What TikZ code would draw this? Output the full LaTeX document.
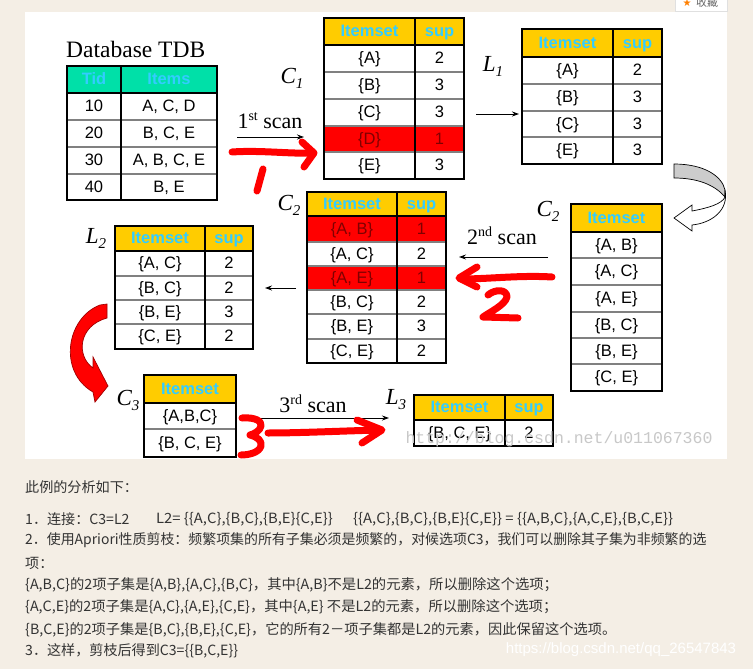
\documentclass[tikz,border=0pt]{standalone}
\usepackage{fontspec}
\setmainfont{Liberation Serif}
\setsansfont{Liberation Sans}
\setmonofont{Liberation Mono}
\newfontfamily\cjk{Noto Sans CJK SC}
\newfontfamily\djv{DejaVu Sans}
\usetikzlibrary{arrows.meta}
\definecolor{pagebg}{HTML}{F4EEE5}
\definecolor{hdrgold}{HTML}{FFCC00}
\definecolor{hdrteal}{HTML}{00E0A8}
\definecolor{hdrtext}{HTML}{33CCFF}
\definecolor{rowred}{HTML}{FF0000}
\definecolor{redtext}{HTML}{800000}
\definecolor{sepgray}{HTML}{808080}
\definecolor{txtgray}{HTML}{333333}
\definecolor{wmgray}{HTML}{C8C8C8}
\definecolor{ribbongray}{HTML}{CCCCCC}
\definecolor{darkred}{HTML}{A00000}
\tikzset{
  cel/.style={font=\sffamily\fontsize{16.5}{16.5}\selectfont, text=black, inner sep=0pt, text height=12pt, text depth=1.5pt},
  celfill/.style={fill=white},
  redcel/.style={cel, text=redtext},
  redcelfill/.style={fill=rowred},
  hdr/.style={font=\sffamily\bfseries\fontsize{16.5}{16.5}\selectfont, text=hdrtext, inner sep=0pt, text height=12pt, text depth=1.5pt},
  hdrfill/.style={fill=hdrgold},
  tdbhdr/.style={hdr},
  tdbhdrfill/.style={fill=hdrteal},
  tframe/.style={draw=black, line width=2pt},
  rowsep/.style={draw=sepgray, line width=2pt},
  lbl/.style={font=\rmfamily\itshape\fontsize{23}{23}\selectfont, inner sep=0pt},
  scanlbl/.style={font=\rmfamily\fontsize{22}{22}\selectfont, inner sep=0pt},
  thinarrow/.style={draw=black, line width=0.9pt, -{Stealth[length=7pt,width=5pt]}},
  handred/.style={draw=rowred, line width=7pt, line cap=round, line join=round},
  cjknote/.style={font=\cjk\fontsize{14.1}{14.1}\selectfont, text=txtgray, anchor=west, inner sep=0pt},
}
\newcommand\sublab[2]{#1\raisebox{-5pt}{\fontsize{15}{15}\selectfont #2}}
\newcommand\supscan[2]{#1\raisebox{8pt}{\fontsize{14}{14}\selectfont #2} scan}
\newcommand\crow[9]{%
  \fill[#9fill] (#2,#5) rectangle (#4,#6);
  \node[#9] (#1a) at ({(#2+#3)/2},{(#5+#6)/2}) {#7};
  \node[#9] (#1b) at ({(#3+#4)/2},{(#5+#6)/2}) {#8};}
\newcommand\scell[7]{%
  \fill[#7fill] (#2,#4) rectangle (#3,#5);
  \node[#7] (#1) at ({(#2+#3)/2},{(#4+#5)/2}) {#6};}
\begin{document}
\begin{tikzpicture}[x=1pt,y=-1pt]
\useasboundingbox (0,0) rectangle (753,669);
\fill[pagebg] (0,0) rectangle (753,669);
\fill[white] (25,12) rectangle (727,459);
% favourite button
\fill[white] (675,0) rectangle (727,11);
\draw[black!12] (675,0) -- (675,11) -- (727,11) -- (727,0);
\begin{scope}
\clip (675,0) rectangle (727,11);
\node[font=\djv\fontsize{10}{10}\selectfont, text=orange, inner sep=0pt] (favstar) at (687,3) {★};
\node[font=\cjk\fontsize{11}{11}\selectfont, text=black!60, inner sep=0pt] (favtxt) at (707,2) {收藏};
\end{scope}

% ---------- Database TDB ----------
\node[font=\rmfamily\fontsize{23.5}{23.5}\selectfont, anchor=base west, inner sep=0pt] (tdbtitle) at (66,58) {Database TDB};
\crow{tdbh}{67}{121}{217}{66}{93}{Tid}{Items}{tdbhdr}
\crow{tdbra}{67}{121}{217}{93}{120}{10}{A, C, D}{cel}
\crow{tdbrb}{67}{121}{217}{120}{147}{20}{B, C, E}{cel}
\crow{tdbrc}{67}{121}{217}{147}{174}{30}{A, B, C, E}{cel}
\crow{tdbrd}{67}{121}{217}{174}{200}{40}{B, E}{cel}
\foreach \y in {120,147,174} \draw[rowsep] (67,\y) -- (217,\y);
\draw[tframe] (67,93) -- (217,93);
\draw[tframe] (67,66) rectangle (217,200);
\draw[tframe] (121,66) -- (121,200);

% ---------- C1 ----------
\crow{caH}{324}{415}{464}{18}{45}{Itemset}{sup}{hdr}
\crow{caa}{324}{415}{464}{45}{72}{\{A\}}{2}{cel}
\crow{cab}{324}{415}{464}{72}{99}{\{B\}}{3}{cel}
\crow{cac}{324}{415}{464}{99}{126}{\{C\}}{3}{cel}
\crow{cad}{324}{415}{464}{126}{152}{\{D\}}{1}{redcel}
\crow{cae}{324}{415}{464}{152}{179}{\{E\}}{3}{cel}
\foreach \y in {72,99,126,152} \draw[rowsep] (324,\y) -- (464,\y);
\draw[tframe] (324,45) -- (464,45);
\draw[tframe] (324,18) rectangle (464,179);
\draw[tframe] (415,18) -- (415,179);
\node[lbl] (c1lbl) at (292,78) {\sublab{C}{1}};

% ---------- L1 ----------
\crow{laH}{522}{613}{662}{29}{57}{Itemset}{sup}{hdr}
\crow{laa}{522}{613}{662}{57}{84}{\{A\}}{2}{cel}
\crow{lab}{522}{613}{662}{84}{111}{\{B\}}{3}{cel}
\crow{lac}{522}{613}{662}{111}{137}{\{C\}}{3}{cel}
\crow{lae}{522}{613}{662}{137}{164}{\{E\}}{3}{cel}
\foreach \y in {84,111,137} \draw[rowsep] (522,\y) -- (662,\y);
\draw[tframe] (522,57) -- (662,57);
\draw[tframe] (522,29) rectangle (662,164);
\draw[tframe] (613,29) -- (613,164);
\node[lbl] (l1lbl) at (493,66) {\sublab{L}{1}};

% ---------- C2 (right, itemsets only) ----------
\scell{cbrH}{571}{662}{204}{232}{Itemset}{hdr}
\scell{cbra}{571}{662}{232}{258}{\{A, B\}}{cel}
\scell{cbrb}{571}{662}{258}{285}{\{A, C\}}{cel}
\scell{cbrc}{571}{662}{285}{312}{\{A, E\}}{cel}
\scell{cbrd}{571}{662}{312}{338}{\{B, C\}}{cel}
\scell{cbre}{571}{662}{338}{364}{\{B, E\}}{cel}
\scell{cbrf}{571}{662}{364}{391}{\{C, E\}}{cel}
\foreach \y in {258,285,312,338,364} \draw[rowsep] (571,\y) -- (662,\y);
\draw[tframe] (571,232) -- (662,232);
\draw[tframe] (571,204) rectangle (662,391);
\node[lbl] (c2rlbl) at (548,211) {\sublab{C}{2}};

% ---------- C2 (middle, counted) ----------
\crow{cbH}{307}{397}{446}{192}{216}{Itemset}{sup}{hdr}
\crow{cba}{307}{397}{446}{216}{242}{\{A, B\}}{1}{redcel}
\crow{cbb}{307}{397}{446}{242}{266}{\{A, C\}}{2}{cel}
\crow{cbc}{307}{397}{446}{266}{290}{\{A, E\}}{1}{redcel}
\crow{cbd}{307}{397}{446}{290}{314}{\{B, C\}}{2}{cel}
\crow{cbe}{307}{397}{446}{314}{339}{\{B, E\}}{3}{cel}
\crow{cbf}{307}{397}{446}{339}{363}{\{C, E\}}{2}{cel}
\foreach \y in {242,266,290,314,339} \draw[rowsep] (307,\y) -- (446,\y);
\draw[tframe] (307,216) -- (446,216);
\draw[tframe] (307,192) rectangle (446,363);
\draw[tframe] (397,192) -- (397,363);
\node[lbl] (c2lbl) at (289,205) {\sublab{C}{2}};

% ---------- L2 ----------
\crow{lbH}{115}{205}{253}{226}{251}{Itemset}{sup}{hdr}
\crow{lba}{115}{205}{253}{251}{276}{\{A, C\}}{2}{cel}
\crow{lbb}{115}{205}{253}{276}{300}{\{B, C\}}{2}{cel}
\crow{lbc}{115}{205}{253}{300}{324}{\{B, E\}}{3}{cel}
\crow{lbd}{115}{205}{253}{324}{349}{\{C, E\}}{2}{cel}
\foreach \y in {276,300,324} \draw[rowsep] (115,\y) -- (253,\y);
\draw[tframe] (115,251) -- (253,251);
\draw[tframe] (115,226) rectangle (253,349);
\draw[tframe] (205,226) -- (205,349);
\node[lbl] (l2lbl) at (96,238) {\sublab{L}{2}};

% ---------- C3 ----------
\scell{ccH}{144}{236}{375}{403}{Itemset}{hdr}
\scell{cca}{144}{236}{403}{429}{\{A,B,C\}}{cel}
\scell{ccb}{144}{236}{429}{457}{\{B, C, E\}}{cel}
\draw[rowsep] (144,429) -- (236,429);
\draw[tframe] (144,403) -- (236,403);
\draw[tframe] (144,375) rectangle (236,457);
\node[lbl] (c3lbl) at (128,400) {\sublab{C}{3}};

% ---------- L3 ----------
\crow{lcH}{414}{505}{553}{395}{420}{Itemset}{sup}{hdr}
\crow{lca}{414}{505}{553}{420}{446}{\{B, C, E\}}{2}{cel}
\draw[tframe] (414,420) -- (553,420);
\draw[tframe] (414,395) rectangle (553,446);
\draw[tframe] (505,395) -- (505,446);
\node[lbl] (l3lbl) at (396,400) {\sublab{L}{3}};

% ---------- scan labels and thin arrows ----------
\node[scanlbl] (scana) at (270,121) {\supscan{1}{st}};
\coordinate (sa1) at (237,137); \coordinate (sa2) at (304,137);
\draw[thinarrow] (sa1) -- (sa2);
\coordinate (la1) at (476,114); \coordinate (la2) at (519,114);
\draw[thinarrow] (la1) -- (la2);
\node[scanlbl] (scanb) at (502,236) {\supscan{2}{nd}};
\coordinate (sb1) at (548,257); \coordinate (sb2) at (459,257);
\draw[thinarrow] (sb1) -- (sb2);
\coordinate (lb1) at (296,288); \coordinate (lb2) at (265,288);
\draw[thinarrow] (lb1) -- (lb2);
\node[scanlbl] (scanc) at (313,404) {\supscan{3}{rd}};
\coordinate (sc1) at (257,418); \coordinate (sc2) at (389,418);
\draw[thinarrow] (sc1) -- (sc2);

% ---------- hand-drawn red arrows ----------
\draw[handred] (232,152) .. controls (260,150) and (290,154) .. (312,153);
\draw[handred] (302,142) -- (314,153) -- (304,167);
\draw[handred] (263,169) -- (257,191);
\draw[handred] (552,277) .. controls (520,275) and (490,279) .. (461,279);
\draw[handred] (477,267) -- (459,278) -- (477,287);
\draw[handred] (488,295) .. controls (495,289) and (507,289) .. (507,297) .. controls (505,305) and (490,312) .. (483,317) -- (518,318);
\draw[handred] (268,433) .. controls (300,433) and (340,431) .. (380,430);
\draw[handred] (357,420) -- (382,430) -- (362,443);
\draw[handred] (242,418) .. controls (255,417) and (262,421) .. (261,426) .. controls (260,431) and (254,434) .. (250,435) .. controls (258,437) and (262,441) .. (261,446) .. controls (259,453) and (248,455) .. (241,455);

% ---------- gray twisted arrow (L1 -> C2) ----------
\draw[fill=ribbongray, draw=black, line width=0.7pt] (674,164) .. controls (704,164) and (722,176) .. (725,190) -- (725,197) .. controls (714,184) and (696,178) .. (674,178) -- cycle;
\draw[fill=white, draw=black, line width=0.7pt] (725,190) .. controls (729,210) and (712,223) .. (692,225) -- (692,231) -- (674,218) -- (692,205) -- (692,211) .. controls (708,208) and (722,204) .. (725,197) -- cycle;

% ---------- red curved arrow (L2 -> C3) ----------
\draw[fill=rowred, draw=darkred, line width=0.7pt] (107,304) -- (100,305) .. controls (66,318) and (58,372) .. (93,392) -- (95,402) -- (108,386) -- (93,357) -- (93,368) .. controls (76,356) and (78,326) .. (107,318) -- cycle;

% ---------- watermarks ----------
\node[font=\ttfamily\fontsize{16.5}{16.5}\selectfont, text=wmgray, inner sep=0pt] (wma) at (559,439) {http://blog.csdn.net/u011067360};

% ---------- notes ----------
\node[cjknote] (ta) at (25,487) {此例的分析如下：};
\node[cjknote] (tba) at (25,519) {1．连接：C3=L2};
\node[cjknote] (tbb) at (156,519) {\scalebox{1.05}[1]{L2= \{\{A,C\},\{B,C\},\{B,E\}\{C,E\}\}}};
\node[cjknote] (tbc) at (353,519) {\scalebox{1.05}[1]{\{\{A,C\},\{B,C\},\{B,E\}\{C,E\}\} = \{\{A,B,C\},\{A,C,E\},\{B,C,E\}\}}};
\node[cjknote] (tc) at (25,540) {\scalebox{0.988}[1]{2．使用Apriori性质剪枝：频繁项集的所有子集必须是频繁的，对候选项C3，我们可以删除其子集为非频繁的选}};
\node[cjknote] (td) at (25,563) {项：};
\node[cjknote] (te) at (25,585) {\scalebox{1.015}[1]{\{A,B,C\}的2项子集是\{A,B\},\{A,C\},\{B,C\}，其中\{A,B\}不是L2的元素，所以删除这个选项；}};
\node[cjknote] (tf) at (25,607) {\scalebox{1.015}[1]{\{A,C,E\}的2项子集是\{A,C\},\{A,E\},\{C,E\}，其中\{A,E\} 不是L2的元素，所以删除这个选项；}};
\node[cjknote] (tg) at (25,630) {\scalebox{1.01}[1]{\{B,C,E\}的2项子集是\{B,C\},\{B,E\},\{C,E\}，它的所有2－项子集都是L2的元素，因此保留这个选项。}};
\node[cjknote] (th) at (25,651) {3．这样，剪枝后得到C3=\{\{B,C,E\}\}};
\node[font=\sffamily\fontsize{15}{15}\selectfont, text=white, inner sep=0pt] (wmb) at (621,650) {https://blog.csdn.net/qq\_26547843};
\end{tikzpicture}
\end{document}
